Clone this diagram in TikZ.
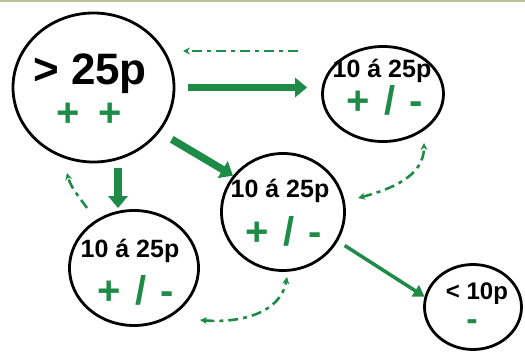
\documentclass[tikz,border=0pt]{standalone}
\usepackage{fontspec}
\setmainfont{Liberation Sans}
\usetikzlibrary{arrows.meta, shapes.geometric}
\definecolor{leafgreen}{RGB}{30,140,70}
\definecolor{topband}{RGB}{186,194,160}

\begin{document}
\begin{tikzpicture}[
		x=1pt, y=1pt,
		>={Stealth[length=7pt, width=7pt]},
		zone/.style={ellipse, draw=black, line width=2.8pt, inner sep=0pt},
		head/.style={font=\fontsize{25}{25}\selectfont\bfseries, anchor=base, inner sep=0pt},
		sign/.style={font=\fontsize{40}{40}\selectfont\bfseries, text=leafgreen, anchor=base, inner sep=0pt},
		mainarrow/.style={-{Triangle[length=12pt, width=19pt]}, line width=7.5pt, leafgreen},
		thinarrow/.style={-{Triangle[length=11pt, width=13pt]}, line width=3.5pt, leafgreen},
		backlink/.style={line width=2.6pt, leafgreen, dash pattern=on 10pt off 5pt on 4pt off 5pt}
		]
		\useasboundingbox (0,0) rectangle (525,356);
		\fill[topband] (0,353.5) rectangle (525,356);
		
		% Size classes
		\node[zone, minimum width=161pt, minimum height=149pt] (big) at (93.5,268.5) {};
		\node[zone, minimum width=121pt, minimum height=95pt] (tr) at (383,262) {};
		\node[zone, minimum width=123pt, minimum height=117pt] (mid) at (283,144) {};
		\node[zone, minimum width=129pt, minimum height=115pt] (bl) at (134,88) {};
		\node[zone, minimum width=97pt, minimum height=85pt] (small) at (473,49) {};
		
		% Texts
		\node[head, font=\fontsize{44}{44}\selectfont\bfseries] (bigtext) at (90,271) {> 25p};
		\node[sign] (bigsign) at (89,229) {+\hspace{8pt} +};
		\node[head] (trtext) at (382,278) {10 á 25p};
		\node[sign] (trsign) at (385,241) {+\hspace{3pt} /\hspace{3pt} -};
		\node[head] (midtext) at (280,158) {10 á 25p};
		\node[sign] (midsign) at (284,110) {+\hspace{3pt} /\hspace{3pt} -};
		\node[head] (bltext) at (130,98) {10 á 25p};
		\node[sign] (blsign) at (136,51) {+\hspace{3pt} /\hspace{3pt} -};
		\node[head, font=\fontsize{24}{24}\selectfont\bfseries] (smalltext) at (477,56) {< 10p};
		\node[sign, font=\fontsize{34}{34}\selectfont\bfseries] (smallsign) at (472,25) {-};
		
		% Moves down
		\draw[mainarrow, shorten <=13pt, shorten >=14pt] (big.east) -- (big.east -| tr.west);
		\draw[mainarrow, shorten <=14pt] (big.-34) -- (mid.144);
		\draw[mainarrow, shorten <=4.5pt, shorten >=1pt] ([xshift=24.5pt]big.south) -- ([xshift=24.5pt]big.south |- bl.north);
		\draw[thinarrow, shorten <=8pt] (mid.-28) -- (small.168);
		
		% Moves back
		\coordinate (backA) at (298,305);
		\coordinate (backB) at (183,305);
		\coordinate (loopA) at (87,148);
		\coordinate (loopB) at (67,183);
		\coordinate (swapA) at (358,158);
		\coordinate (swapB) at (424,213);
		\coordinate (lowA) at (200,36);
		\coordinate (lowB) at (287,79);
		\draw[backlink, ->] (backA) -- (backB);
		\draw[backlink, ->] (loopA) to[out=125, in=-75] (loopB);
		\draw[backlink, <->] (swapA) to[out=15, in=-90] (swapB);
		\draw[backlink, <->] (lowA) to[out=-5, in=-100] (lowB);
		
	\end{tikzpicture}
\end{document}
